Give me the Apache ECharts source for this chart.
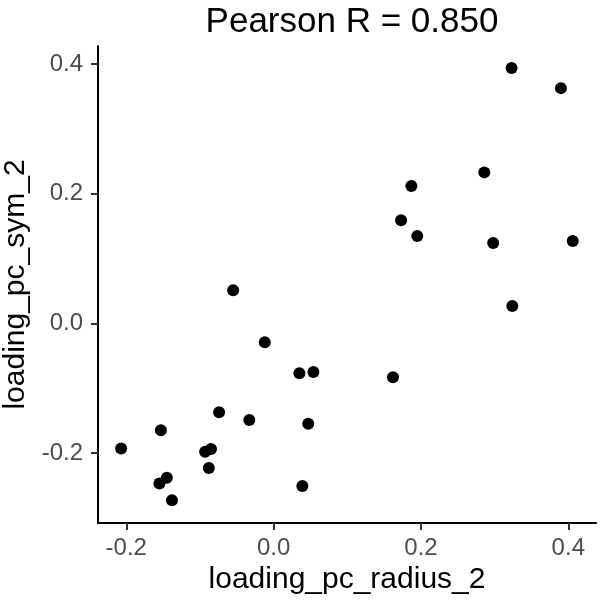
<!DOCTYPE html>
<html>
<head>
<meta charset="utf-8">
<script src="https://cdn.jsdelivr.net/npm/echarts@6/dist/echarts.min.js"></script>
<style>
  html, body { margin: 0; padding: 0; background: #fff; }
  #chart { width: 600px; height: 600px; }
</style>
</head>
<body>
<div id="chart"></div>
<script>
// loadings
const radiusX = [
    0.323, 0.390, 0.286, 0.187, 0.173, 0.195, 0.298, 0.406, 0.324,
    -0.055, -0.012, 0.035, 0.054, 0.162,
    -0.074, -0.033, -0.153, 0.047, -0.207, -0.093, -0.085, -0.088,
    -0.145, -0.155, -0.138, 0.039
];
const symY = [
    0.394, 0.363, 0.233, 0.212, 0.159, 0.135, 0.124, 0.127, 0.027,
    0.051, -0.029, -0.077, -0.075, -0.083,
    -0.137, -0.149, -0.165, -0.155, -0.193, -0.198, -0.194, -0.223,
    -0.238, -0.247, -0.273, -0.251
];
const xTicks = [-0.2, 0.0, 0.2, 0.4];
const yTicks = [-0.2, 0.0, 0.2, 0.4];
const titleText = 'Pearson R = 0.850';

const chart = echarts.init(document.getElementById('chart'));
const font = '"Liberation Sans", Arial, sans-serif';

const points = radiusX.map((x, i) => [x, symY[i]]);

const axisCommon = {
    type: 'value',
    splitLine: { show: false },
    axisLine: { show: true, onZero: false, lineStyle: { color: '#000', width: 2 } },
    axisTick: { show: true, length: 7, lineStyle: { color: '#333', width: 2 } },
    axisLabel: {
        color: '#4d4d4d', fontSize: 24, fontFamily: font,
        formatter: v => v.toFixed(1)
    },
    nameLocation: 'middle',
    nameTextStyle: { color: '#000', fontSize: 30, fontFamily: font }
};

chart.setOption({
    animation: false,
    backgroundColor: '#fff',
    title: {
        text: titleText,
        left: 347, top: 0,
        textAlign: 'center',
        textStyle: { color: '#000', fontSize: 35, fontWeight: 'normal', fontFamily: font }
    },
    grid: { left: 98, right: 4, top: 46, bottom: 77, containLabel: false, outerBoundsMode: 'none' },
    xAxis: Object.assign({}, axisCommon, {
        min: -0.2384, max: 0.4376,
        name: 'loading_pc_radius_2', nameGap: 34,
        axisTick: Object.assign({}, axisCommon.axisTick, { customValues: xTicks }),
        axisLabel: Object.assign({}, axisCommon.axisLabel, { customValues: xTicks, margin: 13 })
    }),
    yAxis: Object.assign({}, axisCommon, {
        min: -0.308, max: 0.428,
        name: 'loading_pc_sym_2', nameGap: 63,
        axisTick: Object.assign({}, axisCommon.axisTick, { customValues: yTicks }),
        axisLabel: Object.assign({}, axisCommon.axisLabel, { customValues: yTicks, margin: 15 })
    }),
    series: [{
        type: 'scatter',
        data: points,
        symbolSize: 12,
        itemStyle: { color: '#000', opacity: 1 }
    }]
});
</script>
</body>
</html>
